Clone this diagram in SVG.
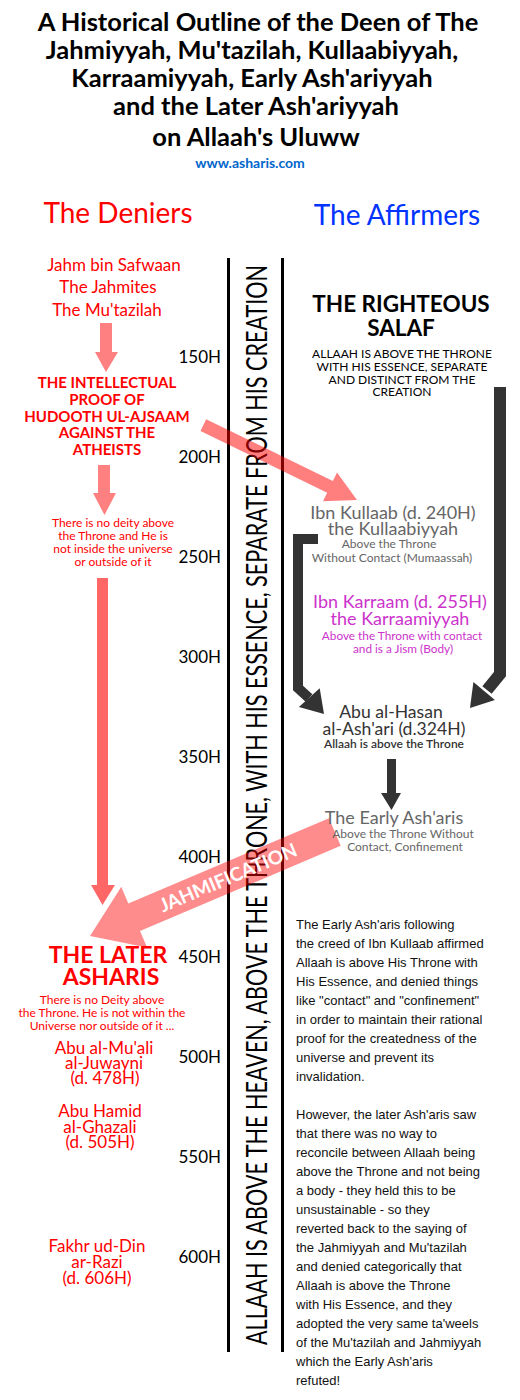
<svg xmlns="http://www.w3.org/2000/svg" width="520" height="1400" viewBox="0 0 520 1400">
<style>
text{font-family:Lato,"Open Sans","DejaVu Sans",sans-serif}
.c{text-anchor:middle}
.title{font-size:25.5px;font-weight:700;fill:#000;text-anchor:middle}
.hdr{font-size:28px;text-anchor:middle}
.red{fill:#ff0000}
.yr{font-size:17px;text-anchor:end;fill:#000}
.nm{font-size:17px;text-anchor:middle}
.gray{fill:#666666}
.dark{fill:#333333}
.mag{fill:#cc33cc}
.para{font-family:"Liberation Sans",Arial,sans-serif;font-size:13px;fill:#111}
.pink{fill:#ff0000;fill-opacity:0.5}
.dk{stroke:#333333;fill:none}
</style>
<rect width="520" height="1400" fill="#ffffff"/>

<g id="title">
<text class="title"><tspan x="258" y="31">A Historical Outline of the Deen of The</tspan><tspan x="252" y="59">Jahmiyyah, Mu'tazilah, Kullaabiyyah,</tspan><tspan x="252" y="87">Karraamiyyah, Early Ash'ariyyah</tspan><tspan x="256" y="115">and the Later Ash'ariyyah</tspan><tspan x="256" y="146">on Allaah's Uluww</tspan></text>
<text x="250" y="168" class="c" style="font-size:14px;font-weight:700;fill:#0066cc">www.asharis.com</text>
</g>

<g id="header-deniers"><text class="hdr red" x="118" y="223">The Deniers</text></g>
<g id="header-affirmers"><text class="hdr" x="397" y="225" fill="#0033ff">The Affirmers</text></g>

<g id="timeline">
<rect x="227" y="258" width="3" height="1094" fill="#000"/>
<rect x="281" y="258" width="3" height="1094" fill="#000"/>
<text transform="translate(267,805) rotate(-90) scale(1,1.35)" text-anchor="middle" font-size="21.5" textLength="1080" lengthAdjust="spacingAndGlyphs" fill="#000">ALLAAH IS ABOVE THE HEAVEN, ABOVE THE THRONE, WITH HIS ESSENCE, SEPARATE FROM HIS CREATION</text>
<text class="yr" x="221" y="363">150H</text>
<text class="yr" x="221" y="463">200H</text>
<text class="yr" x="221" y="563">250H</text>
<text class="yr" x="221" y="663">300H</text>
<text class="yr" x="221" y="763">350H</text>
<text class="yr" x="221" y="863">400H</text>
<text class="yr" x="221" y="963">450H</text>
<text class="yr" x="221" y="1063">500H</text>
<text class="yr" x="221" y="1163">550H</text>
<text class="yr" x="221" y="1263">600H</text>
</g>

<g id="connectors">
<polygon points="100,323 112,323 112,352 118,352 106,372 95,352 100,352" fill="#ff8080"/>
<polygon points="98,465 110,465 110,493 116,493 104.5,515 93,493 98,493" fill="#ff8080"/>
<polygon points="97,578 108,578 108,885 115,885 102.5,905 91,885 97,885" fill="#ff6666"/>
<polygon class="pink" transform="translate(357,500) rotate(26)" points="-171,-6.5 -30,-6.5 -30,-16 0,0 -30,16 -30,6.5 -171,6.5"/>
<path class="dk" d="M500,387 V674 L487,690" stroke-width="12"/>
<polygon points="473.4,682.1 494.9,700.1 470,708" fill="#333"/>
<path class="dk" d="M318,539 H298 V688 L309,698" stroke-width="10"/>
<polygon points="319.7,688.3 298.9,706.9 324,714" fill="#333"/>
<rect x="387" y="759" width="9" height="34" fill="#333"/>
<polygon points="381,793 401,793 391.5,810" fill="#333"/>
<g transform="translate(90,936) rotate(-23)">
<polygon fill="#ff0000" fill-opacity="0.45" points="0,0 48,-33 48,-15 266,-15 266,15 48,15 48,33"/>
<text x="150" y="7" text-anchor="middle" font-size="19" font-weight="700" fill="#fff">JAHMIFICATION</text>
</g>
</g>

<g id="jahm">
<text class="nm red"><tspan x="114" y="271">Jahm bin Safwaan</tspan><tspan x="108" y="293">The Jahmites</tspan><tspan x="107" y="316">The Mu'tazilah</tspan></text>
</g>

<g id="proof">
<text class="c red" style="font-size:15px;font-weight:700"><tspan x="107" y="388">THE INTELLECTUAL</tspan><tspan x="107" y="405">PROOF OF</tspan><tspan x="107" y="422">HUDOOTH UL-AJSAAM</tspan><tspan x="107" y="438">AGAINST THE</tspan><tspan x="107" y="455">ATHEISTS</tspan></text>
</g>

<g id="denial">
<text class="c red" style="font-size:12px"><tspan x="113" y="527">There is no deity above</tspan><tspan x="113" y="540">the Throne and He is</tspan><tspan x="113" y="553">not inside the universe</tspan><tspan x="113" y="566">or outside of it</tspan></text>
</g>

<g id="later-asharis">
<text class="c red" style="font-size:23px;font-weight:700"><tspan x="108" y="963">THE LATER</tspan><tspan x="111" y="985">ASHARIS</tspan></text>
<text class="c red" style="font-size:12px"><tspan x="102" y="1004">There is no Deity above</tspan><tspan x="102" y="1017">the Throne. He is not within the</tspan><tspan x="102" y="1030">Universe nor outside of it ...</tspan></text>
</g>

<g id="juwayni">
<text class="nm red"><tspan x="104" y="1054">Abu al-Mu'ali</tspan><tspan x="104" y="1069">al-Juwayni</tspan><tspan x="105" y="1084">(d. 478H)</tspan></text>
</g>
<g id="ghazali">
<text class="nm red"><tspan x="100" y="1117">Abu Hamid</tspan><tspan x="100" y="1133">al-Ghazali</tspan><tspan x="100" y="1148">(d. 505H)</tspan></text>
</g>
<g id="razi">
<text class="nm red"><tspan x="97" y="1252">Fakhr ud-Din</tspan><tspan x="97" y="1268">ar-Razi</tspan><tspan x="97" y="1284">(d. 606H)</tspan></text>
</g>

<g id="salaf">
<text class="c" style="font-size:22.5px;font-weight:700"><tspan x="401" y="312">THE RIGHTEOUS</tspan><tspan x="401" y="336">SALAF</tspan></text>
<text class="c" style="font-size:12px"><tspan x="402" y="358">ALLAAH IS ABOVE THE THRONE</tspan><tspan x="402" y="371">WITH HIS ESSENCE, SEPARATE</tspan><tspan x="402" y="384">AND DISTINCT FROM THE</tspan><tspan x="402" y="396">CREATION</tspan></text>
</g>

<g id="kullaab">
<text class="c gray" style="font-size:18px"><tspan x="393" y="519">Ibn Kullaab (d. 240H)</tspan><tspan x="393" y="535">the Kullaabiyyah</tspan></text>
<text class="c gray" style="font-size:12px"><tspan x="389" y="548">Above the Throne</tspan><tspan x="392" y="562">Without Contact (Mumaassah)</tspan></text>
</g>

<g id="karraam">
<text class="c mag" style="font-size:18px"><tspan x="400" y="608">Ibn Karraam (d. 255H)</tspan><tspan x="400" y="625">the Karraamiyyah</tspan></text>
<text class="c mag" style="font-size:11.8px"><tspan x="402" y="640">Above the Throne with contact</tspan><tspan x="403" y="653">and is a Jism (Body)</tspan></text>
</g>

<g id="ashari">
<text class="c dark" style="font-size:17.6px"><tspan x="391" y="718">Abu al-Hasan</tspan><tspan x="394" y="735">al-Ash'ari (d.324H)</tspan></text>
<text class="c dark" x="394" y="748" style="font-size:12px;font-weight:600">Allaah is above the Throne</text>
</g>

<g id="early-asharis">
<text class="c gray" x="394" y="824" style="font-size:18px">The Early Ash'aris</text>
<text class="c gray" style="font-size:12px"><tspan x="403" y="838">Above the Throne Without</tspan><tspan x="405" y="851">Contact, Confinement</tspan></text>
</g>

<g id="note">
<text class="para">
<tspan x="296" y="929">The Early Ash'aris following</tspan>
<tspan x="296" y="948">the creed of Ibn Kullaab affirmed</tspan>
<tspan x="296" y="967">Allaah is above His Throne with</tspan>
<tspan x="296" y="986">His Essence, and denied things</tspan>
<tspan x="296" y="1005">like "contact" and "confinement"</tspan>
<tspan x="296" y="1024">in order to maintain their rational</tspan>
<tspan x="296" y="1043">proof for the createdness of the</tspan>
<tspan x="296" y="1062">universe and prevent its</tspan>
<tspan x="296" y="1081">invalidation.</tspan>
<tspan x="296" y="1119">However, the later Ash'aris saw</tspan>
<tspan x="296" y="1138">that there was no way to</tspan>
<tspan x="296" y="1157">reconcile between Allaah being</tspan>
<tspan x="296" y="1176">above the Throne and not being</tspan>
<tspan x="296" y="1195">a body - they held this to be</tspan>
<tspan x="296" y="1214">unsustainable - so they</tspan>
<tspan x="296" y="1233">reverted back to the saying of</tspan>
<tspan x="296" y="1252">the Jahmiyyah and Mu'tazilah</tspan>
<tspan x="296" y="1271">and denied categorically that</tspan>
<tspan x="296" y="1290">Allaah is above the Throne</tspan>
<tspan x="296" y="1309">with His Essence, and they</tspan>
<tspan x="296" y="1328">adopted the very same ta'weels</tspan>
<tspan x="296" y="1347">of the Mu'tazilah and Jahmiyyah</tspan>
<tspan x="296" y="1366">which the Early Ash'aris</tspan>
<tspan x="296" y="1385">refuted!</tspan>
</text>
</g>
</svg>
